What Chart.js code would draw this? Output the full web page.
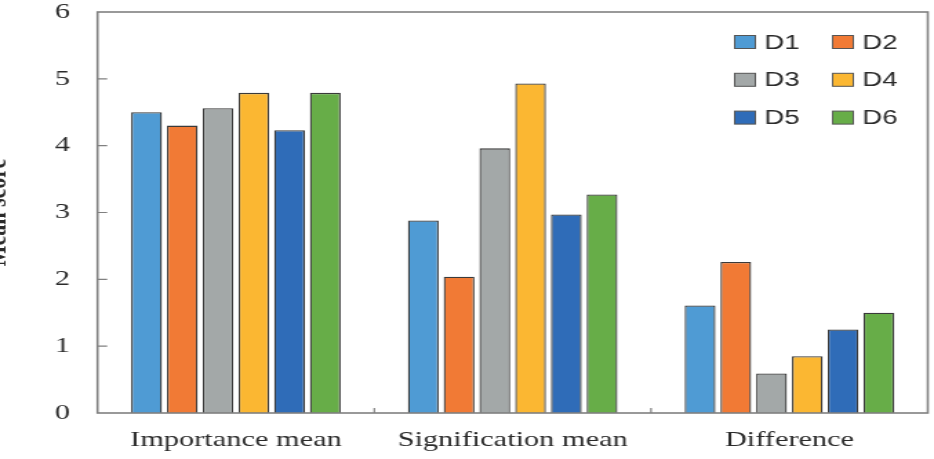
<!DOCTYPE html>
<html>
<head>
<meta charset="utf-8">
<script src="https://cdn.jsdelivr.net/npm/chart.js@4.4.1/dist/chart.umd.min.js"></script>
<style>
html, body { margin: 0; padding: 0; background: #fff; overflow: hidden; }
</style>
</head>
<body>
<!-- the source picture is stretched sideways, so the canvas is drawn narrow and scaled up by css -->
<canvas id="chart" width="677" height="459" style="width:934px;height:459px"></canvas>
<script>
const categories = ['Importance mean', 'Signification mean', 'Difference'];
const seriesNames = ['D1', 'D2', 'D3', 'D4', 'D5', 'D6'];
const d1 = [4.50, 2.88, 1.61];
const d2 = [4.30, 2.04, 2.26];
const d3 = [4.56, 3.96, 0.59];
const d4 = [4.79, 4.93, 0.85];
const d5 = [4.23, 2.97, 1.25];
const d6 = [4.79, 3.27, 1.50];
const yTicks = [0, 1, 2, 3, 4, 5, 6];
const yTitle = 'Mean score';

const seriesValues = [d1, d2, d3, d4, d5, d6];
const colors = ['#4f9bd4', '#f17a35', '#a3a8a8', '#fbb732', '#2f6cb8', '#67ad48'];

const frameColor = '#808080';
const textColor = '#2b2b2b';
const serif = '"Liberation Serif", "Times New Roman", serif';

const framePlugin = {
  id: 'frame',
  afterDraw(chart) {
    const ctx = chart.ctx;
    const a = chart.chartArea;
    const y = chart.scales.y;
    const x = chart.scales.x;
    ctx.save();
    ctx.strokeStyle = frameColor;
    ctx.lineWidth = 1.6;
    ctx.strokeRect(a.left, a.top, a.right - a.left, a.bottom - a.top);

    // inward ticks on the value axis
    ctx.lineWidth = 1.2;
    ctx.beginPath();
    yTicks.forEach(function (t) {
      if (t === 0 || t === 6) return;
      const py = y.getPixelForValue(t);
      ctx.moveTo(a.left, py);
      ctx.lineTo(a.left + 7, py);
    });
    // small marks between the groups
    for (let i = 0; i < categories.length - 1; i++) {
      const px = (x.getPixelForValue(i) + x.getPixelForValue(i + 1)) / 2;
      ctx.moveTo(px, a.bottom);
      ctx.lineTo(px, a.bottom - 5);
    }
    ctx.stroke();

    // value axis title, partly cut off at the left edge like the source
    ctx.fillStyle = textColor;
    ctx.font = 'bold 22px ' + serif;
    ctx.translate(4, (a.top + a.bottom) / 2);
    ctx.rotate(-Math.PI / 2);
    ctx.textAlign = 'center';
    ctx.textBaseline = 'alphabetic';
    ctx.fillText(yTitle, 0, 0);
    ctx.restore();

    // legend in two columns, top right inside the plot
    ctx.save();
    ctx.font = '20px "Liberation Sans", Arial, sans-serif';
    ctx.textBaseline = 'middle';
    chart.data.datasets.forEach(function (ds, i) {
      const col = i % 2;
      const row = Math.floor(i / 2);
      const bx = a.right - 140 + col * 71;
      const by = a.top + 30 + row * 37.8;
      ctx.fillStyle = ds.backgroundColor;
      ctx.fillRect(bx, by - 6.5, 15, 13);
      ctx.strokeStyle = '#555';
      ctx.lineWidth = 1;
      ctx.strokeRect(bx, by - 6.5, 15, 13);
      ctx.fillStyle = textColor;
      ctx.fillText(ds.label, bx + 21.5, by + 1);
    });
    ctx.restore();
  }
};

new Chart(document.getElementById('chart'), {
  type: 'bar',
  data: {
    labels: categories,
    datasets: seriesNames.map(function (name, i) {
      return {
        label: name,
        data: seriesValues[i],
        backgroundColor: colors[i],
        borderColor: '#3a3a3a',
        borderWidth: 1.3,
        barPercentage: 0.86,
        categoryPercentage: 0.775
      };
    })
  },
  options: {
    responsive: false,
    devicePixelRatio: 1,
    animation: false,
    layout: { padding: { left: 0, right: 4.5, top: 12, bottom: 6 } },
    plugins: {
      legend: { display: false },
      tooltip: { enabled: false }
    },
    scales: {
      x: {
        afterFit: function (scale) {
          scale.height = 40;
          scale.paddingLeft = 0;
          scale.paddingRight = 0;
        },
        grid: { display: false, drawTicks: false },
        border: { display: false },
        ticks: {
          color: textColor,
          padding: 14,
          font: { family: serif, size: 22 }
        }
      },
      y: {
        min: 0,
        max: 6,
        afterFit: function (scale) {
          scale.width = 70.7;
          scale.paddingTop = 0;
          scale.paddingBottom = 0;
        },
        afterBuildTicks: function (scale) {
          scale.ticks = yTicks.map(function (v) { return { value: v }; });
        },
        grid: { display: false, drawTicks: false },
        border: { display: false },
        ticks: {
          color: textColor,
          padding: 20,
          font: { family: serif, size: 22 }
        }
      }
    }
  },
  plugins: [framePlugin]
});
</script>
</body>
</html>
